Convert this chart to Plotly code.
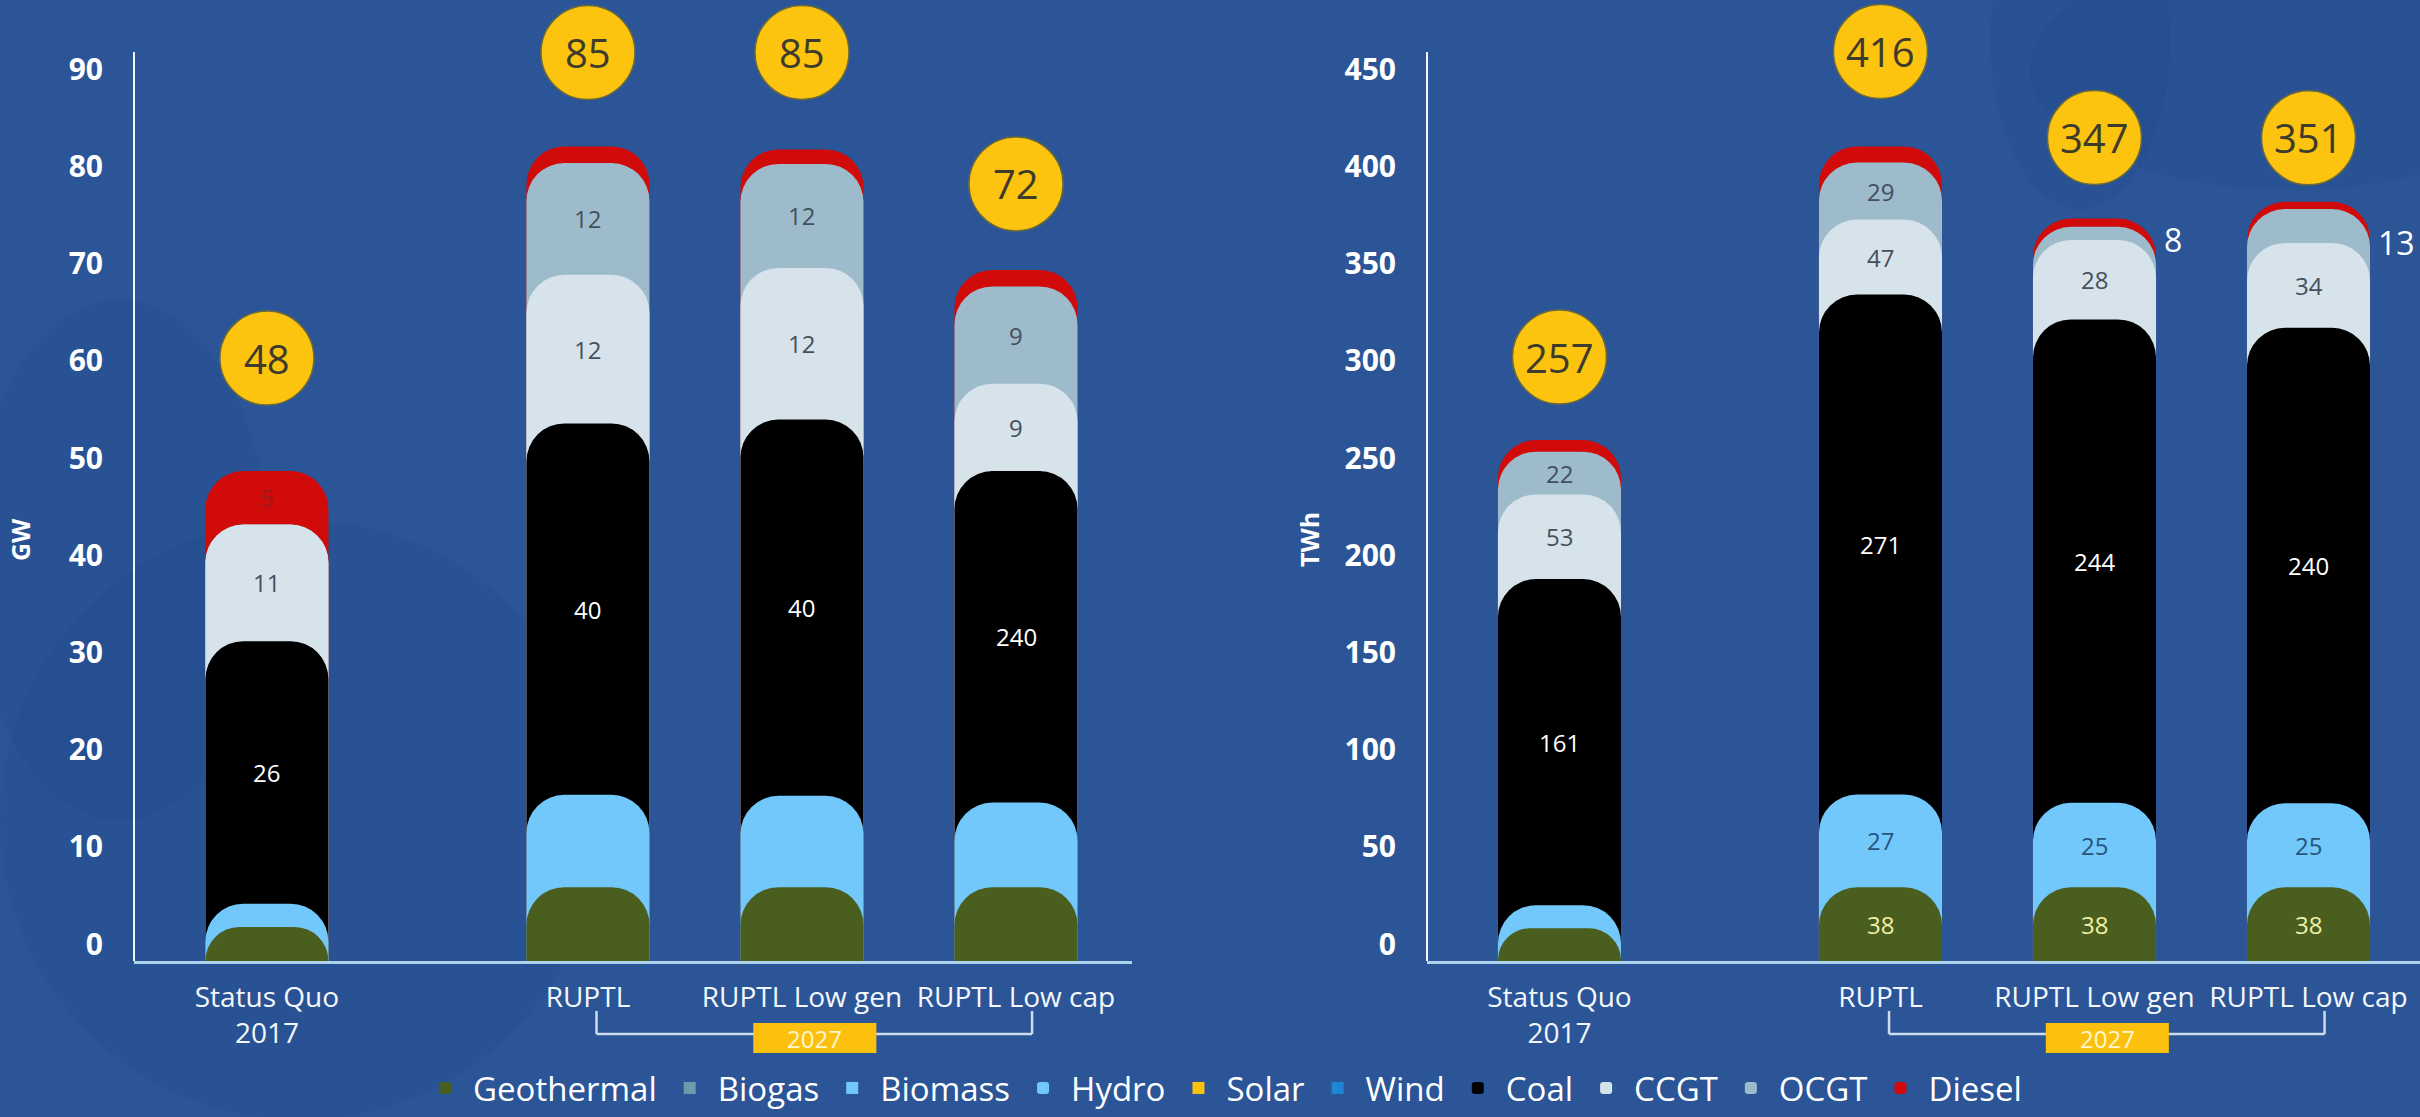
import numpy as np
import plotly.graph_objects as go

# ---------------- data ----------------
CATEGORIES = ["Status Quo<br>2017", "RUPTL", "RUPTL Low gen", "RUPTL Low cap"]
LEGEND_ORDER = ["Geothermal", "Biogas", "Biomass", "Hydro", "Solar", "Wind",
                "Coal", "CCGT", "OCGT", "Diesel"]
STACK_SERIES = ["Geothermal", "Hydro", "Coal", "CCGT", "OCGT", "Diesel"]

# Installed capacity (GW), bottom to top
geothermal_gw = [3.5, 7.6, 7.6, 7.6]
hydro_gw = [2.4, 9.5, 9.4, 8.7]
coal_gw = [27.0, 38.2, 38.7, 34.1]
ccgt_gw = [12.0, 15.3, 15.6, 9.0]
ocgt_gw = [0.0, 11.5, 10.7, 10.0]
diesel_gw = [5.5, 1.7, 1.5, 1.7]
total_labels_gw = ["48", "85", "85", "72"]
labels_gw = {
    "Geothermal": ["", "", "", ""],
    "Hydro": ["", "", "", ""],
    "Coal": ["26", "40", "40", "240"],
    "CCGT": ["11", "12", "12", "9"],
    "OCGT": ["", "12", "12", "9"],
    "Diesel": ["5", "", "", ""],
}

# Generation (TWh), bottom to top
geothermal_twh = [16.8, 37.9, 37.9, 37.9]
hydro_twh = [11.9, 47.7, 43.5, 43.2]
coal_twh = [167.8, 257.2, 248.6, 244.6]
ccgt_twh = [43.5, 38.6, 40.9, 43.7]
ocgt_twh = [22.0, 29.3, 6.8, 17.4]
diesel_twh = [6.0, 8.3, 4.2, 3.7]
total_labels_twh = ["257", "416", "347", "351"]
labels_twh = {
    "Geothermal": ["", "38", "38", "38"],
    "Hydro": ["", "27", "25", "25"],
    "Coal": ["161", "271", "244", "240"],
    "CCGT": ["53", "47", "28", "34"],
    "OCGT": ["22", "29", "8", "13"],
    "Diesel": ["", "", "", ""],
}
YEAR_LABEL = "2027"

# ---------------- styles / layout ----------------
BG = "#2b5597"
COLORS = {
    "Geothermal": "#4a5e1f",
    "Biogas": "#6c9bab",
    "Biomass": "#72c7fb",
    "Hydro": "#72c7fb",
    "Solar": "#fcc10e",
    "Wind": "#1f86d6",
    "Coal": "#000000",
    "CCGT": "#d6e3ea",
    "OCGT": "#9dbbcb",
    "Diesel": "#d10a0a",
}
LABEL_COLORS = {
    "Geothermal": "#f1efa6",
    "Hydro": "#26557d",
    "Coal": "#ffffff",
    "CCGT": "#44505c",
    "OCGT": "#44505c",
    "Diesel": "#9a1c1c",
}
FONT = "Open Sans"
X_POS = [0.0, 1.5, 2.5, 3.5]
BAR_W = 0.575
W, H = 2420, 1117
AXIS_BOTTOM_PX, AXIS_TOP_PX = 961, 52
PX_PER_UNIT = {"": 9.72, "2": 1.944}
BADGE_R = 47
BADGE_SHIFT = {"": [113, 94, 97, 86], "2": [83, 95, 81, 64]}
OUTSIDE_LABEL = {"": [False] * 4, "2": [False, False, True, True]}
X_RANGE = {"": [-0.621, 4.042], "2": [-0.619, 4.021]}
X_DOMAIN = {"": [134 / W, 1132 / W], "2": [1427 / W, 1.0]}


def py(px):
    return (H - px) / H


def px_x(px):
    return px / W


fig = go.Figure()
layout_axes = {}

charts = [
    ("", [geothermal_gw, hydro_gw, coal_gw, ccgt_gw, ocgt_gw, diesel_gw],
     labels_gw, total_labels_gw, 10, 3),
    ("2", [geothermal_twh, hydro_twh, coal_twh, ccgt_twh, ocgt_twh, diesel_twh],
     labels_twh, total_labels_twh, 50, 8),
]

annotations = []
shapes = []

# very faint decorative swirls in the background
for (cx, cy, rx, ry) in [(300, 820, 300, 300), (120, 560, 150, 260),
                         (2290, 70, 260, 120), (2080, 40, 90, 170)]:
    shapes.append(dict(type="circle", xref="paper", yref="paper",
                       x0=px_x(cx - rx), x1=px_x(cx + rx),
                       y0=py(cy + ry), y1=py(cy - ry),
                       fillcolor="rgba(20,55,120,0.10)", line=dict(width=0),
                       layer="below"))

for suffix, segs, labels, totals, dtick, first_overlay in charts:
    segs = np.array(segs, dtype=float)
    tops = np.cumsum(segs, axis=0)
    base_x = "x" + suffix
    ya = "y" + suffix
    # each layer on its own overlaying x axis so every layer keeps its rounded top
    overlay_id = first_overlay
    for k, i in enumerate(reversed(range(len(STACK_SERIES)))):
        name = STACK_SERIES[i]
        if k == 0:
            xa = base_x
        else:
            xa = "x%d" % overlay_id
            layout_axes["xaxis%d" % overlay_id] = dict(
                overlaying=base_x, range=X_RANGE[suffix], visible=False,
                anchor=ya, showgrid=False, zeroline=False, fixedrange=True)
            overlay_id += 1
        fig.add_trace(go.Bar(
            x=X_POS, y=tops[i], width=BAR_W, name=name,
            marker=dict(color=COLORS[name], cornerradius=38, line=dict(width=0)),
            xaxis=xa, yaxis=ya, legendgroup=name,
            showlegend=(suffix == ""), legendrank=LEGEND_ORDER.index(name) + 1,
            hoverinfo="skip",
        ))
    # segment labels
    for i, name in enumerate(STACK_SERIES):
        for j in range(len(X_POS)):
            txt = labels[name][j]
            if not txt:
                continue
            mid = tops[i][j] - segs[i][j] / 2
            if name == "OCGT" and OUTSIDE_LABEL[suffix][j]:
                annotations.append(dict(
                    x=X_POS[j] + BAR_W / 2, y=tops[i][j] - segs[i][j],
                    xref=base_x, yref=ya, text=txt,
                    showarrow=False, xanchor="left", xshift=6,
                    font=dict(family=FONT, size=32, color="#ffffff")))
            else:
                annotations.append(dict(
                    x=X_POS[j], y=mid, xref=base_x, yref=ya, text=txt,
                    showarrow=False,
                    font=dict(family=FONT, size=24, color=LABEL_COLORS[name])))
    # total badges
    for j in range(len(X_POS)):
        s = BADGE_SHIFT[suffix][j]
        shapes.append(dict(
            type="circle", xref=base_x, yref=ya, xsizemode="pixel",
            ysizemode="pixel", xanchor=X_POS[j], yanchor=tops[-1][j],
            x0=-BADGE_R, x1=BADGE_R, y0=s - BADGE_R, y1=s + BADGE_R,
            fillcolor="#fcc30f", line=dict(color="#6b6a3c", width=1.5),
            layer="above"))
        annotations.append(dict(
            x=X_POS[j], y=tops[-1][j], xref=base_x, yref=ya, text=totals[j],
            showarrow=False, yshift=s,
            font=dict(family=FONT, size=40, color="#3d3b2c")))
    # 2027 bracket
    bl, br, bc = 1.54, 3.575, 2.56
    for (x0, x1, y0, y1) in [(bl, bl, 1011, 1034), (bl, br, 1034, 1034),
                             (br, br, 1011, 1034)]:
        shapes.append(dict(type="line", xref=base_x, yref="paper", x0=x0, x1=x1,
                           y0=py(y0), y1=py(y1),
                           line=dict(color="#cfdcec", width=2.5)))
    shapes.append(dict(type="rect", xref=base_x, yref="paper",
                       x0=bc - BAR_W / 2, x1=bc + BAR_W / 2,
                       y0=py(1053), y1=py(1023), fillcolor="#fcc10e",
                       line=dict(width=0), layer="above"))
    annotations.append(dict(x=bc, y=py(1038), xref=base_x, yref="paper",
                            text=YEAR_LABEL, showarrow=False,
                            xanchor="center", yanchor="middle",
                            font=dict(family=FONT, size=24, color="#fff6cf")))
    # vertical value-axis line (top of the value scale at AXIS_TOP_PX)
    xl = X_DOMAIN[suffix][0]
    shapes.append(dict(type="line", xref="paper", yref="paper", x0=xl, x1=xl,
                       y0=py(AXIS_BOTTOM_PX), y1=py(AXIS_TOP_PX),
                       line=dict(color="#f2f5f9", width=2)))
    # axes
    layout_axes["xaxis" + suffix] = dict(
        domain=X_DOMAIN[suffix], range=X_RANGE[suffix], anchor=ya,
        tickmode="array", tickvals=X_POS, ticktext=CATEGORIES,
        showgrid=False, zeroline=False, showline=True,
        linecolor="#acd2ec", linewidth=3, ticks="", automargin=False,
        tickfont=dict(family=FONT, size=28, color="#f4f7fb"),
        ticklabelstandoff=9, fixedrange=True)
    layout_axes["yaxis" + suffix] = dict(
        domain=[py(AXIS_BOTTOM_PX), 1.0],
        range=[0, AXIS_BOTTOM_PX / PX_PER_UNIT[suffix]], dtick=dtick,
        anchor=base_x, showgrid=False, zeroline=False, showline=False,
        ticks="", automargin=False,
        tickfont=dict(family=FONT, size=30, color="white", weight=700),
        ticklabelshift=-17, ticklabelstandoff=30, fixedrange=True)

# legend-only series
for name in ["Biogas", "Biomass", "Solar", "Wind"]:
    fig.add_trace(go.Bar(x=[X_POS[0]], y=[0], width=BAR_W, name=name,
                         marker=dict(color=COLORS[name]), xaxis="x", yaxis="y",
                         legendrank=LEGEND_ORDER.index(name) + 1,
                         hoverinfo="skip"))

# axis titles
annotations.append(dict(x=px_x(20), y=py(540), xref="paper", yref="paper",
                        text="GW", textangle=-90, showarrow=False,
                        xanchor="center", yanchor="middle",
                        font=dict(family=FONT, size=25, color="white", weight=700)))
annotations.append(dict(x=px_x(1309), y=py(540), xref="paper", yref="paper",
                        text="TWh", textangle=-90, showarrow=False,
                        xanchor="center", yanchor="middle",
                        font=dict(family=FONT, size=25, color="white", weight=700)))

fig.update_layout(
    template="none",
    width=W, height=H,
    paper_bgcolor=BG, plot_bgcolor="rgba(0,0,0,0)",
    margin=dict(l=0, r=0, t=0, b=0, autoexpand=False),
    barmode="overlay",
    showlegend=True,
    legend=dict(orientation="h", x=0.505, xanchor="center", y=py(1088),
                yanchor="middle", font=dict(family=FONT, size=33, color="white"),
                bgcolor="rgba(0,0,0,0)", traceorder="normal", itemwidth=46),
    annotations=annotations,
    shapes=shapes,
    **layout_axes,
)

fig.write_html("out.html", config={"displayModeBar": False},
               post_script="document.body.style.margin='0';"
                           "document.body.style.overflow='hidden';")
